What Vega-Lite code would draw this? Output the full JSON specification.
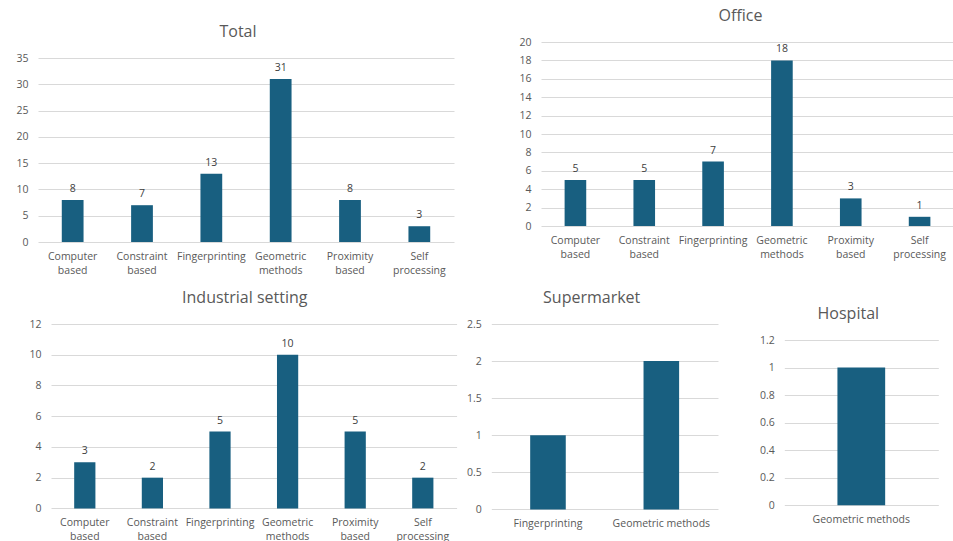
{
  "$schema": "https://vega.github.io/schema/vega-lite/v6.json",
  "background": "white",
  "padding": 0,
  "datasets": {
    "total": [
      {"method": "Computer based", "count": 8},
      {"method": "Constraint based", "count": 7},
      {"method": "Fingerprinting", "count": 13},
      {"method": "Geometric methods", "count": 31},
      {"method": "Proximity based", "count": 8},
      {"method": "Self processing", "count": 3}
    ],
    "office": [
      {"method": "Computer based", "count": 5},
      {"method": "Constraint based", "count": 5},
      {"method": "Fingerprinting", "count": 7},
      {"method": "Geometric methods", "count": 18},
      {"method": "Proximity based", "count": 3},
      {"method": "Self processing", "count": 1}
    ],
    "industrial": [
      {"method": "Computer based", "count": 3},
      {"method": "Constraint based", "count": 2},
      {"method": "Fingerprinting", "count": 5},
      {"method": "Geometric methods", "count": 10},
      {"method": "Proximity based", "count": 5},
      {"method": "Self processing", "count": 2}
    ],
    "supermarket": [
      {"method": "Fingerprinting", "count": 1},
      {"method": "Geometric methods", "count": 2}
    ],
    "hospital": [
      {"method": "Geometric methods", "count": 1}
    ]
  },
  "config": {
    "font": "Open Sans",
    "view": {"stroke": null},
    "title": {"fontSize": 16, "fontWeight": "normal", "color": "#595959", "baseline": "alphabetic", "offset": 13, "anchor": "middle", "frame": "group"},
    "axis": {"labelFont": "Open Sans", "labelFontSize": 10.5, "labelColor": "#595959", "ticks": false, "domain": false, "title": null},
    "axisX": {"grid": false, "labelAngle": 0, "labelPadding": 9.5, "labelLineHeight": 13.5},
    "axisY": {"grid": true, "gridColor": "#d9d9d9", "gridWidth": 1, "labelPadding": 10, "format": "~g"},
    "bar": {"color": "#185f80"},
    "text": {"color": "#404040", "fontSize": 10.5, "baseline": "alphabetic", "dy": -8}
  },
  "spacing": 3,
  "vconcat": [
    {
      "spacing": 0,
      "hconcat": [
        {"width": 15, "height": 1, "data": {"values": []}, "mark": "rect", "encoding": {}},
        {
          "spacing": 64,
          "hconcat": [
            {
              "spacing": 0,
              "vconcat": [
                {"width": 1, "height": 23.3, "data": {"values": []}, "mark": "rect", "encoding": {}},
                {
                  "width": 416, "height": 184,
                  "title": {"text": "Total", "dx": -8},
                  "data": {"name": "total"},
                  "encoding": {
                    "x": {"field": "method", "type": "nominal", "sort": null, "scale": {"paddingInner": 0.686, "paddingOuter": 0.343}, "axis": {"labelExpr": "split(datum.label, ' ')"}},
                    "y": {"field": "count", "type": "quantitative", "scale": {"domain": [0, 35]}, "axis": {"values": [0, 5, 10, 15, 20, 25, 30, 35]}}
                  },
                  "layer": [
                    {"mark": "bar"},
                    {"mark": "text", "encoding": {"text": {"field": "count"}}}
                  ]
                }
              ]
            },
            {
              "spacing": 0,
              "vconcat": [
                {"width": 1, "height": 7.7, "data": {"values": []}, "mark": "rect", "encoding": {}},
                {
                  "width": 413, "height": 184,
                  "title": {"text": "Office", "dx": -7},
                  "data": {"name": "office"},
                  "encoding": {
                    "x": {"field": "method", "type": "nominal", "sort": null, "scale": {"paddingInner": 0.686, "paddingOuter": 0.343}, "axis": {"labelExpr": "split(datum.label, ' ')"}},
                    "y": {"field": "count", "type": "quantitative", "scale": {"domain": [0, 20]}, "axis": {"values": [0, 2, 4, 6, 8, 10, 12, 14, 16, 18, 20]}}
                  },
                  "layer": [
                    {"mark": "bar"},
                    {"mark": "text", "encoding": {"text": {"field": "count"}}}
                  ]
                }
              ]
            }
          ]
        }
      ]
    },
    {
      "spacing": 0,
      "hconcat": [
        {"width": 28, "height": 1, "data": {"values": []}, "mark": "rect", "encoding": {}},
        {
          "spacing": 9.3,
          "hconcat": [
            {
              "spacing": 0,
              "vconcat": [
                {"width": 1, "height": 10.3, "data": {"values": []}, "mark": "rect", "encoding": {}},
                {
                  "width": 405.6, "height": 184.4,
                  "title": {"text": "Industrial setting", "dx": -9},
                  "data": {"name": "industrial"},
                  "encoding": {
                    "x": {"field": "method", "type": "nominal", "sort": null, "scale": {"paddingInner": 0.686, "paddingOuter": 0.343}, "axis": {"labelExpr": "split(datum.label, ' ')"}},
                    "y": {"field": "count", "type": "quantitative", "scale": {"domain": [0, 12]}, "axis": {"values": [0, 2, 4, 6, 8, 10, 12]}}
                  },
                  "layer": [
                    {"mark": "bar"},
                    {"mark": "text", "encoding": {"text": {"field": "count"}}}
                  ]
                }
              ]
            },
            {
              "spacing": 41,
              "hconcat": [
                {
                  "spacing": 0,
                  "vconcat": [
                    {"width": 1, "height": 10.3, "data": {"values": []}, "mark": "rect", "encoding": {}},
                    {
                      "width": 226.7, "height": 185.4,
                      "title": {"text": "Supermarket", "dx": -13},
                      "data": {"name": "supermarket"},
                      "encoding": {
                        "x": {"field": "method", "type": "nominal", "sort": null, "scale": {"paddingInner": 0.686, "paddingOuter": 0.343}},
                        "y": {"field": "count", "type": "quantitative", "scale": {"domain": [0, 2.5]}, "axis": {"values": [0, 0.5, 1, 1.5, 2, 2.5]}}
                      },
                      "mark": "bar"
                    }
                  ]
                },
                {
                  "spacing": 0,
                  "vconcat": [
                    {"width": 1, "height": 27, "data": {"values": []}, "mark": "rect", "encoding": {}},
                    {
                      "width": 154, "height": 165.3,
                      "title": {"text": "Hospital", "dx": -13},
                      "data": {"name": "hospital"},
                      "encoding": {
                        "x": {"field": "method", "type": "nominal", "sort": null, "scale": {"paddingInner": 0.69, "paddingOuter": 0.345}},
                        "y": {"field": "count", "type": "quantitative", "scale": {"domain": [0, 1.2]}, "axis": {"values": [0, 0.2, 0.4, 0.6, 0.8, 1, 1.2]}}
                      },
                      "mark": "bar"
                    }
                  ]
                }
              ]
            }
          ]
        }
      ]
    }
  ]
}
